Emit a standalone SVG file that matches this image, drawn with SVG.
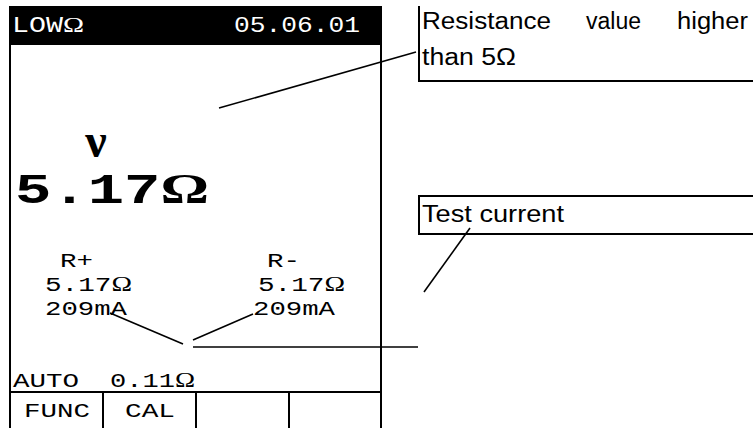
<svg xmlns="http://www.w3.org/2000/svg" width="753" height="428" viewBox="0 0 753 428">
<style>
.m{font-family:"Liberation Mono","DejaVu Sans Mono",monospace;font-size:21px;fill:#000}
.o{font-family:"Liberation Serif","DejaVu Serif",serif}
.s{font-family:"Liberation Sans",Arial,sans-serif;font-size:23px;fill:#000}
.ln{stroke:#000;stroke-width:2;fill:none}
.th{stroke:#000;stroke-width:1.6;fill:none}
</style>
<rect width="753" height="428" fill="#fff"/>
<g id="screen">
<rect x="10" y="6" width="371" height="39" fill="#000"/>
<path class="ln" d="M10 6V428M381 6V428M10 392H381M103 392V428M196 392V428M289 392V428"/>
<text class="m" x="12" y="32" style="fill:#fff;font-size:22px" textLength="72" lengthAdjust="spacingAndGlyphs">LOW<tspan class="o">Ω</tspan></text>
<text class="m" x="234" y="32" style="fill:#fff;font-size:22px" textLength="126" lengthAdjust="spacingAndGlyphs">05.06.01</text>
<text x="96" y="157" text-anchor="middle" style="font-family:'Liberation Serif','DejaVu Serif',serif;font-size:48px;font-weight:bold">ν</text>
<text class="m" x="15" y="203" style="font-size:42px;font-weight:bold" textLength="194" lengthAdjust="spacingAndGlyphs">5.17<tspan class="o">Ω</tspan></text>
<text class="m" x="60" y="267" textLength="33" lengthAdjust="spacingAndGlyphs">R+</text>
<text class="m" x="45" y="291" textLength="87" lengthAdjust="spacingAndGlyphs">5.17<tspan class="o">Ω</tspan></text>
<text class="m" x="45" y="315" textLength="82" lengthAdjust="spacingAndGlyphs">209mA</text>
<text class="m" x="267" y="267" textLength="33" lengthAdjust="spacingAndGlyphs">R-</text>
<text class="m" x="258" y="291" textLength="87" lengthAdjust="spacingAndGlyphs">5.17<tspan class="o">Ω</tspan></text>
<text class="m" x="253" y="315" textLength="82" lengthAdjust="spacingAndGlyphs">209mA</text>
<text class="m" x="13" y="387" textLength="66" lengthAdjust="spacingAndGlyphs">AUTO</text>
<text class="m" x="110" y="387" textLength="85" lengthAdjust="spacingAndGlyphs">0.11<tspan class="o">Ω</tspan></text>
<text class="m" x="24" y="417" textLength="66" lengthAdjust="spacingAndGlyphs">FUNC</text>
<text class="m" x="125" y="417" textLength="50" lengthAdjust="spacingAndGlyphs">CAL</text>
</g>
<g id="note-resistance">
<path class="ln" d="M419 6V81H753"/>
<text class="s" x="422" y="29" textLength="129" lengthAdjust="spacingAndGlyphs">Resistance</text>
<text class="s" x="586" y="29" textLength="55" lengthAdjust="spacingAndGlyphs">value</text>
<text class="s" x="677" y="29" textLength="71" lengthAdjust="spacingAndGlyphs">higher</text>
<text class="s" x="422" y="65" textLength="94" lengthAdjust="spacingAndGlyphs">than 5Ω</text>
</g>
<g id="note-current">
<rect class="ln" x="419" y="196" width="400" height="38"/>
<text class="s" x="422" y="222" textLength="142" lengthAdjust="spacingAndGlyphs">Test current</text>
</g>
<g id="connectors">
<line class="th" x1="219" y1="108" x2="416" y2="52"/>
<line class="th" x1="110" y1="313" x2="183" y2="344"/>
<line class="th" x1="193" y1="340" x2="253" y2="314"/>
<line class="th" x1="193" y1="347" x2="418" y2="347"/>
<line class="th" x1="470" y1="228" x2="424" y2="292"/>
</g>
</svg>
